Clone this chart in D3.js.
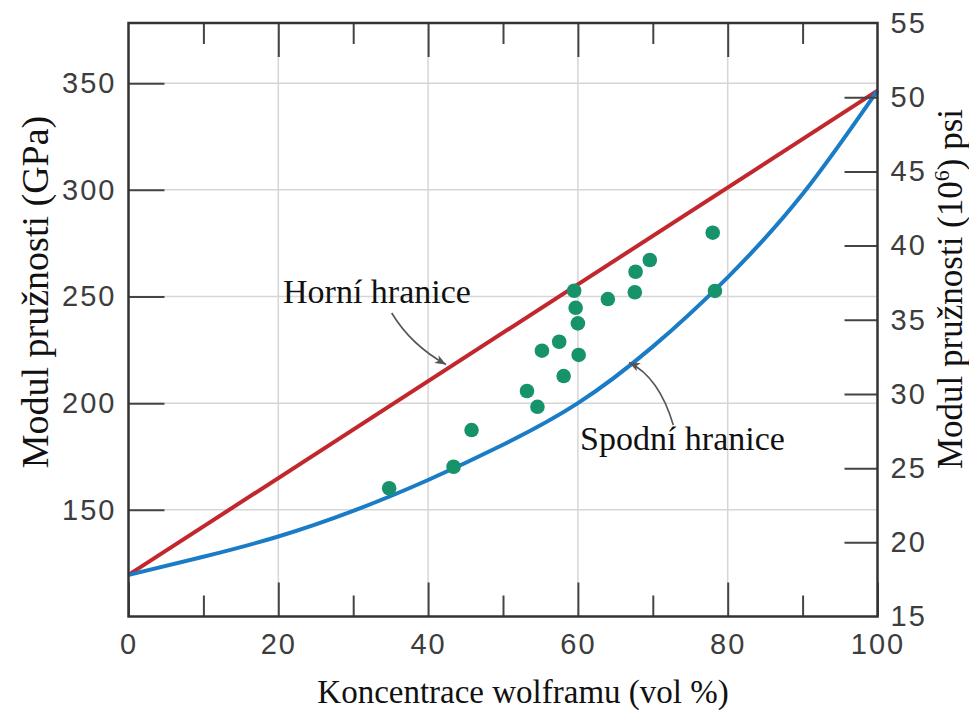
<!DOCTYPE html>
<html>
<head>
<meta charset="utf-8">
<script src="https://cdn.jsdelivr.net/npm/d3@7"></script>
<style>
  html, body { margin: 0; padding: 0; background: #fff; }
  svg { display: block; }
</style>
</head>
<body>
<svg id="chart" width="969" height="714"></svg>
<script>
// Measured Young's modulus of Cu–W composites (GPa) vs. tungsten volume fraction
const wolframConc = [34.8, 43.4, 45.8, 53.2, 54.6, 55.2, 57.5, 58.1, 59.5, 59.7, 60.0, 60.1, 64.0, 67.6, 67.7, 69.6, 78.0, 78.3];
const modulusGPa  = [160.1, 170.2, 187.4, 205.7, 198.3, 224.6, 228.8, 212.7, 252.7, 244.7, 237.4, 222.6, 248.8, 252.0, 261.6, 267.1, 279.9, 252.6];

// Upper bound (rule of mixtures, linear)
const upperConc = [0, 100];
const upperGPa  = [119.5, 346.5];

// Lower bound (inverse rule of mixtures)
const lowerConc = [0, 10, 20, 30, 40, 50, 60, 70, 80, 90, 100];
const lowerGPa  = [119.5, 128, 137.5, 149.5, 164, 180.5, 200, 226.5, 259, 298, 346.5];

// Axis ticks
const xMajorTicks = [0, 20, 40, 60, 80, 100];
const xMinorTicks = [10, 30, 50, 70, 90];
const xGridTicks  = [20, 40, 60, 80];
const gpaTicks    = [150, 200, 250, 300, 350];
const psiTicks    = [15, 20, 25, 30, 35, 40, 45, 50, 55];

const xTitle = "Koncentrace wolframu (vol %)";
const yTitleLeft = "Modul pružnosti (GPa)";
const upperLabel = "Horní hranice";
const lowerLabel = "Spodní hranice";

const svg = d3.select("#chart");
const L = 128.5, R = 877.5, T = 23, B = 616.5;

const x  = d3.scaleLinear().domain([0, 100]).range([L, R]);
const yL = d3.scaleLinear().domain([100, 378.2]).range([B, T]);
const yR = d3.scaleLinear().domain([15, 55]).range([B, T]);

const tickFont = "'Liberation Sans', Arial, Helvetica, sans-serif";
const serif = "'Liberation Serif', 'Times New Roman', serif";
const tickColor = "#3d3d3d";

// Grid
const grid = svg.append("g").attr("stroke", "#d6d6d6").attr("stroke-width", 1.5);
grid.selectAll("line.v").data(xGridTicks).join("line")
  .attr("x1", d => x(d)).attr("x2", d => x(d)).attr("y1", T).attr("y2", B);
grid.selectAll("line.h").data(gpaTicks).join("line")
  .attr("x1", L).attr("x2", R).attr("y1", d => yL(d)).attr("y2", d => yL(d));

// Bound curves
const upperLine = d3.line().x(d => x(d[0])).y(d => yL(d[1]));
svg.append("path")
  .datum(d3.zip(upperConc, upperGPa))
  .attr("d", upperLine)
  .attr("fill", "none").attr("stroke", "#c1272d").attr("stroke-width", 4);

const lowerLine = d3.line().x(d => x(d[0])).y(d => yL(d[1])).curve(d3.curveNatural);
svg.append("path")
  .datum(d3.zip(lowerConc, lowerGPa))
  .attr("d", lowerLine)
  .attr("fill", "none").attr("stroke", "#1a7cc6").attr("stroke-width", 4);

// Data points
svg.append("g").selectAll("circle")
  .data(d3.zip(wolframConc, modulusGPa)).join("circle")
  .attr("cx", d => x(d[0])).attr("cy", d => yL(d[1]))
  .attr("r", 7.3).attr("fill", "#17936b");

// Axes with inward ticks
function styleAxis(g) {
  g.select(".domain").remove();
  g.selectAll(".tick line").attr("stroke", "#444").attr("stroke-width", 2);
  g.selectAll(".tick text")
    .attr("fill", tickColor)
    .style("font-family", tickFont)
    .style("font-size", "29px")
    .style("letter-spacing", "2px");
}

svg.append("g").attr("transform", `translate(0,${B})`)
  .call(d3.axisBottom(x).tickValues(xMajorTicks).tickSize(-34).tickPadding(50).tickFormat(d3.format("d")))
  .call(styleAxis)
  .call(g => g.selectAll(".tick text").attr("y", 37).attr("dy", 0));
svg.append("g").attr("transform", `translate(0,${B})`)
  .call(d3.axisBottom(x).tickValues(xMinorTicks).tickSize(-21).tickFormat(""))
  .call(styleAxis);
svg.append("g").attr("transform", `translate(0,${T})`)
  .call(d3.axisTop(x).tickValues(xMajorTicks.slice(1, -1)).tickSize(-34).tickFormat(""))
  .call(styleAxis);
svg.append("g").attr("transform", `translate(0,${T})`)
  .call(d3.axisTop(x).tickValues(xMinorTicks).tickSize(-21).tickFormat(""))
  .call(styleAxis);

svg.append("g").attr("transform", `translate(${L},0)`)
  .call(d3.axisLeft(yL).tickValues(gpaTicks).tickSize(-36).tickPadding(12).tickFormat(d3.format("d")))
  .call(styleAxis);

svg.append("g").attr("transform", `translate(${R},0)`)
  .call(d3.axisRight(yR).tickValues(psiTicks).tickSize(-33).tickPadding(13).tickFormat(d3.format("d")))
  .call(styleAxis)
  .call(g => g.selectAll(".tick line").filter(d => d === 15 || d === 55).remove());

// Frame
svg.append("rect")
  .attr("x", L).attr("y", T).attr("width", R - L).attr("height", B - T)
  .attr("fill", "none").attr("stroke", "#333").attr("stroke-width", 2.5);

// Axis titles
svg.append("text")
  .attr("x", (L + R) / 2 + 20).attr("y", 703)
  .attr("text-anchor", "middle")
  .style("font-family", serif).style("font-size", "33px").attr("fill", "#111")
  .text(xTitle);

svg.append("text")
  .attr("transform", "translate(48,292) rotate(-90)")
  .attr("text-anchor", "middle")
  .style("font-family", serif).style("font-size", "38px").attr("fill", "#111")
  .text(yTitleLeft);

const rt = svg.append("text")
  .attr("transform", "translate(962,289) rotate(-90)")
  .attr("text-anchor", "middle")
  .style("font-family", serif).style("font-size", "35px").attr("fill", "#111");
rt.append("tspan").text("Modul pružnosti (10");
rt.append("tspan").attr("dy", -13).style("font-size", "22px").text("6");
rt.append("tspan").attr("dy", 13).text(") psi");

// Annotations
const defs = svg.append("defs");
defs.append("marker")
  .attr("id", "arrow").attr("viewBox", "0 0 12 10")
  .attr("refX", 11).attr("refY", 5)
  .attr("markerWidth", 12).attr("markerHeight", 10)
  .attr("markerUnits", "userSpaceOnUse")
  .attr("orient", "auto")
  .append("path").attr("d", "M0,0.5 L11,5 L0,9.5 L3,5 Z").attr("fill", "#555");

svg.append("text")
  .attr("x", 283).attr("y", 303)
  .style("font-family", serif).style("font-size", "34px").attr("fill", "#111")
  .text(upperLabel);
svg.append("path")
  .attr("d", "M391.7,313 Q411,345 446,364.5")
  .attr("fill", "none").attr("stroke", "#555").attr("stroke-width", 1.6)
  .attr("marker-end", "url(#arrow)");

svg.append("text")
  .attr("x", 580).attr("y", 450)
  .style("font-family", serif).style("font-size", "34px").attr("fill", "#111")
  .text(lowerLabel);
svg.append("path")
  .attr("d", "M673.3,425 Q659,377 629,362.5")
  .attr("fill", "none").attr("stroke", "#555").attr("stroke-width", 1.6)
  .attr("marker-end", "url(#arrow)");
</script>
</body>
</html>
